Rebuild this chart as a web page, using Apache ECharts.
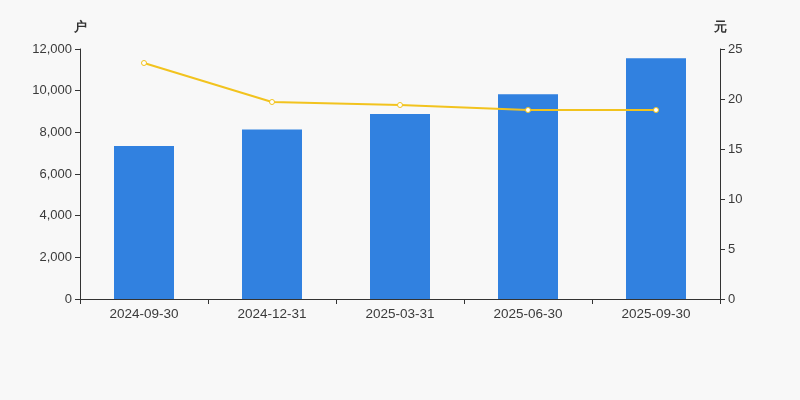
<!DOCTYPE html>
<html>
<head>
<meta charset="utf-8">
<script src="https://cdn.jsdelivr.net/npm/echarts@6/dist/echarts.min.js"></script>
<style>
html,body{margin:0;padding:0;background:#f8f8f8;}
#c{width:800px;height:400px;}
</style>
</head>
<body>
<div id="c"></div>
<script>
const categories = ['2024-09-30','2024-12-31','2025-03-31','2025-06-30','2025-09-30'];
const holders = [7350, 8140, 8880, 9830, 11560];
const avgValue = [23.6, 19.7, 19.4, 18.9, 18.9];

const chart = echarts.init(document.getElementById('c'));
const axisText = {color:'#3a3a3a', fontSize:13, fontFamily:'Arial, "Liberation Sans", sans-serif'};
const nameStyle = {color:'#333',fontSize:13,fontWeight:'bold',align:'center',padding:[0,0,0,0]};
chart.setOption({
  backgroundColor:'#f8f8f8',
  animation:false,
  grid:{left:80,right:80,top:49,bottom:101},
  xAxis:{
    type:'category',
    data:categories,
    axisLine:{lineStyle:{color:'#333'}},
    axisTick:{show:true,lineStyle:{color:'#333'}},
    axisLabel:Object.assign({margin:8},axisText,{fontSize:13.5})
  },
  yAxis:[{
    type:'value',
    name:'户',
    min:0,max:12000,interval:2000,
    nameTextStyle:nameStyle,
    nameGap:15,
    axisLine:{show:true,lineStyle:{color:'#333'}},
    axisTick:{show:true,lineStyle:{color:'#333'}},
    splitLine:{show:false},
    axisLabel:Object.assign({formatter:v=>v.toLocaleString('en-US')},axisText)
  },{
    type:'value',
    name:'元',
    min:0,max:25,interval:5,
    nameTextStyle:nameStyle,
    nameGap:15,
    axisLine:{show:true,lineStyle:{color:'#333'}},
    axisTick:{show:true,lineStyle:{color:'#333'}},
    splitLine:{show:false},
    axisLabel:axisText
  }],
  series:[{
    type:'bar',
    data:holders,
    barWidth:60,
    itemStyle:{color:'#3181e0'}
  },{
    type:'line',
    yAxisIndex:1,
    data:avgValue,
    symbol:'circle',
    symbolSize:5,
    lineStyle:{color:'#f2c31e',width:2},
    itemStyle:{color:'#fff',borderColor:'#f2c31e',borderWidth:1}
  }]
});
</script>
</body>
</html>
